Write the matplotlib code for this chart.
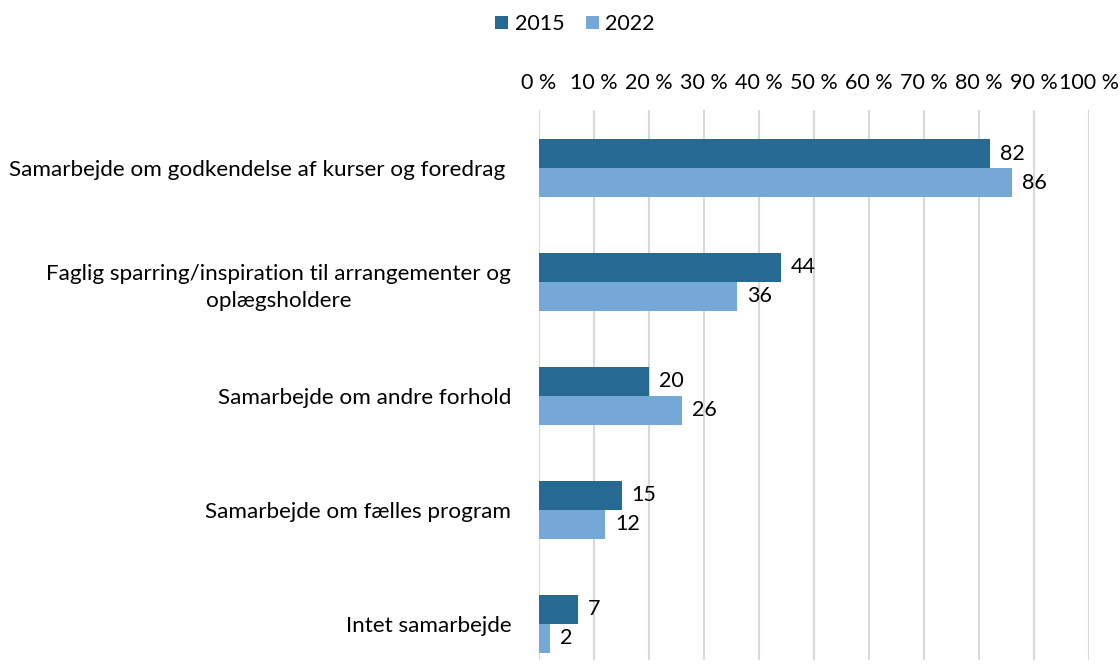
#!/usr/bin/env python3

import numpy as np
import matplotlib
matplotlib.use("Agg")
import matplotlib.pyplot as plt

categories = [
    "Samarbejde om godkendelse af kurser og foredrag ",
    "Faglig sparring/inspiration til arrangementer og\noplægsholdere",
    "Samarbejde om andre forhold",
    "Samarbejde om fælles program",
    "Intet samarbejde",
]
values_2015 = [82, 44, 20, 15, 7]
values_2022 = [86, 36, 26, 12, 2]
series_names = ["2015", "2022"]
tick_values = list(range(0, 101, 10))
tick_labels = ["%d %%" % t for t in tick_values]

plt.rcParams['font.family'] = ['Lato', 'DejaVu Sans']
fs = 15.5

dark = "#266992"
light = "#75a8d6"

fig = plt.figure(figsize=(11.2, 6.71), dpi=100)
ax = fig.add_axes([539 / 1120, 11 / 671, 550 / 1120, 550 / 671])

y = np.arange(len(categories))
h = 0.255
b1 = ax.barh(y - h / 2, values_2015, height=h, color=dark, label=series_names[0])
b2 = ax.barh(y + h / 2, values_2022, height=h, color=light, label=series_names[1])

for bars in (b1, b2):
    for bar in bars:
        w = bar.get_width()
        ax.text(w + 1.8, bar.get_y() + bar.get_height() / 2, "%d" % w,
                va="center", ha="left", fontsize=fs, color="black")

ax.set_xlim(0, 100)
ax.set_ylim(4 + 0.32, -0.51)
ax.set_yticks(y)
ax.set_yticklabels(categories, fontsize=16.2, ha="right",
                   multialignment="center", linespacing=1.45)
ax.set_xticks(tick_values)
ax.set_xticklabels(tick_labels, fontsize=fs)
ax.xaxis.tick_top()
ax.tick_params(axis="both", length=0)
ax.tick_params(axis="x", pad=12)
ax.tick_params(axis="y", pad=20)
ax.grid(axis="x", color="#d9d9d9", linewidth=1.5)
ax.set_axisbelow(True)
for s in ax.spines.values():
    s.set_visible(False)

fig.legend(handles=[b1, b2], labels=series_names, loc="center",
           bbox_to_anchor=(575 / 1120, 1 - 24 / 671), ncol=2, frameon=False,
           fontsize=fs, handlelength=0.6, handleheight=0.6, handletextpad=0.3,
           columnspacing=1.0)

fig.savefig("out.png", dpi=100)
